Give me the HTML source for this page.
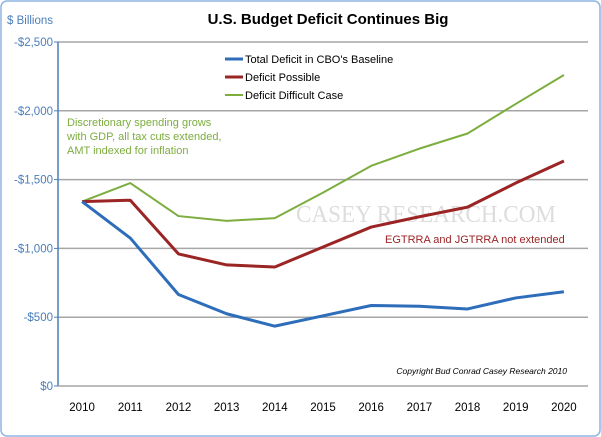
<!DOCTYPE html>
<html><head><meta charset="utf-8"><style>
body{margin:0;background:#fff;}
svg{display:block;font-family:"Liberation Sans",sans-serif;}
</style></head><body>
<svg id="chart" width="601" height="437">
<rect x="1" y="1" width="599" height="435" rx="6" fill="#fff" stroke="#8eb4e3" stroke-width="1.5"/>
<text x="328" y="24" text-anchor="middle" font-size="15" font-weight="bold" fill="#000">U.S. Budget Deficit Continues Big</text>
<text x="7" y="24" font-size="11.5" fill="#4a7ebb">$ Billions</text>
<g id="grid"></g>
<text x="296" y="222" font-size="24" fill="#ddd" font-family="Liberation Serif,serif" textLength="260" lengthAdjust="spacingAndGlyphs">CASEY RESEARCH.COM</text>
<g id="series"></g>
<g>
<line x1="225" y1="59" x2="243" y2="59" stroke="#2e6dba" stroke-width="3"/>
<text x="245" y="63" font-size="11">Total Deficit in CBO's Baseline</text>
<line x1="225" y1="77" x2="243" y2="77" stroke="#9b2424" stroke-width="3"/>
<text x="245" y="81" font-size="11">Deficit Possible</text>
<line x1="225" y1="95" x2="243" y2="95" stroke="#7cad3e" stroke-width="2"/>
<text x="245" y="99" font-size="11">Deficit Difficult Case</text>
</g>
<g font-size="11" fill="#7cad3e">
<text x="67" y="126" fill="#7cad3e">Discretionary spending grows</text>
<text x="67" y="140" fill="#7cad3e">with GDP, all tax cuts extended,</text>
<text x="67" y="154" fill="#7cad3e">AMT indexed for inflation</text>
</g>
<text x="385" y="243" font-size="11" fill="#9b2424">EGTRRA and JGTRRA not extended</text>
<text x="567" y="374" text-anchor="end" font-size="8.5" font-style="italic" fill="#000">Copyright Bud Conrad Casey Research 2010</text>
</svg>
<script>
const years=["2010","2011","2012","2013","2014","2015","2016","2017","2018","2019","2020"];
const baseline=[1340,1075,665,525,435,510,585,580,560,640,685];
const possible=[1340,1350,960,880,865,1010,1155,1230,1300,1475,1635];
const difficult=[1340,1475,1235,1200,1220,1405,1600,1725,1835,2050,2260];
const yTicks=[0,500,1000,1500,2000,2500];
const yTickLabels=["$0","-$500","-$1,000","-$1,500","-$2,000","-$2,500"];
const NS="http://www.w3.org/2000/svg";
const L=58,R=588,T=42,B=386;
const step=(R-L)/years.length;
const x=i=>L+step*(i+0.5);
const y=v=>B-(v/2500)*(B-T);
const grid=document.getElementById('grid'),ser=document.getElementById('series');
function mk(tag,a,p){const e=document.createElementNS(NS,tag);for(const k in a)e.setAttribute(k,a[k]);p.appendChild(e);return e;}
yTicks.forEach((v,i)=>{
 if(v>0){const g=mk('line',{x1:L,x2:R,y1:y(v),y2:y(v),stroke:'#a6a6a6','stroke-width':1.5},grid);
 
 }
 const tk=mk('line',{x1:L-4,x2:L,y1:y(v),y2:y(v),stroke:'#4a7ebb'},grid);
 
 
 const t=mk('text',{x:L-5,y:y(v)+4,'text-anchor':'end','font-size':11.5,fill:'#4a7ebb'},grid);
 t.textContent=yTickLabels[i];
 
 
});
const ax=mk('line',{x1:L,x2:L,y1:T,y2:B,stroke:'#4a7ebb','stroke-width':1.5},grid);


const xa=mk('line',{x1:L,x2:R,y1:B,y2:B,stroke:'#a6a6a6','stroke-width':1.5},grid);


years.forEach((yr,i)=>{
 const t=mk('text',{x:x(i),y:411,'text-anchor':'middle','font-size':11.5,fill:'#000'},grid);
 t.textContent=yr;
 
 
});
[[difficult,'#7cad3e',2,'line-difficult'],[possible,'#9b2424',3,'line-possible'],[baseline,'#2e6dba',3,'line-baseline']].forEach(([d,c,w,n])=>{
 const p=mk('polyline',{points:d.map((v,i)=>x(i)+','+y(v)).join(' '),fill:'none',stroke:c,'stroke-width':w,'stroke-linejoin':'round'},ser);
 
 
});
</script>
</body></html>
